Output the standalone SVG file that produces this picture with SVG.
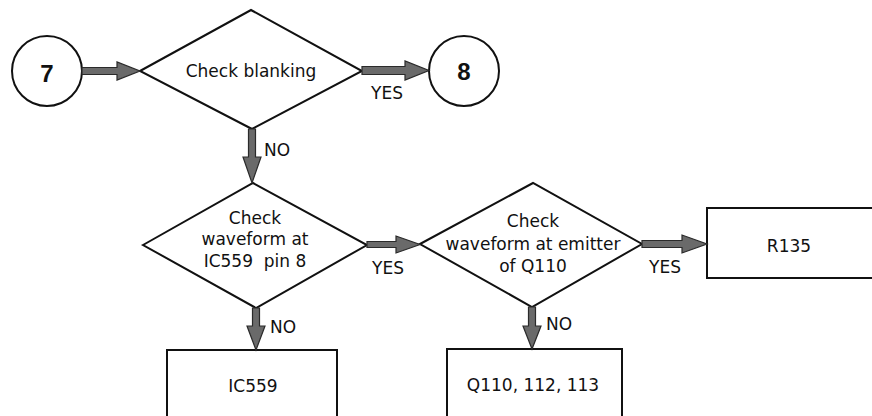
<svg xmlns="http://www.w3.org/2000/svg" width="872" height="416" viewBox="0 0 872 416">
<style>
.shape{fill:#fff;stroke:#111;stroke-width:2}
.arr{fill:#6a6a6a;stroke:#2a2a2a;stroke-width:1.2;stroke-linejoin:miter}
text{font-family:"DejaVu Sans","Liberation Sans",sans-serif;font-size:17px;fill:#111}
.c{text-anchor:middle}
.num{font-family:"Liberation Sans",Arial,sans-serif;font-size:24px;font-weight:bold}
</style>
<rect width="872" height="416" fill="#fff"/>
<g id="n7"><circle class="shape" cx="47" cy="71" r="35"/><text class="c num" x="47" y="82">7</text></g>
<g id="d1"><polygon class="shape" points="140,71 251,10 362,71 252,129"/><text class="c" x="251" y="77">Check blanking</text></g>
<g id="n8"><circle class="shape" cx="464" cy="71" r="35"/><text class="c num" x="464" y="80">8</text></g>
<g id="d2"><polygon class="shape" points="143,245 253,183 367,245 256,308"/><text class="c" x="255" y="224">Check</text><text class="c" x="255" y="245">waveform at</text><text class="c" x="255" y="267" xml:space="preserve">IC559  pin 8</text></g>
<g id="d3"><polygon class="shape" points="420,244 533,183 642,244 532,307"/><text class="c" x="533" y="227">Check</text><text class="c" x="533" y="250">waveform at emitter</text><text class="c" x="533" y="272">of Q110</text></g>
<g id="r135"><rect class="shape" x="707" y="208" width="180" height="70"/><text class="c" x="789" y="252">R135</text></g>
<g id="ic559"><rect class="shape" x="167" y="350" width="170" height="80"/><text class="c" x="253" y="392">IC559</text></g>
<g id="q110"><rect class="shape" x="447" y="349" width="175" height="80"/><text class="c" x="533" y="391">Q110, 112, 113</text></g>
<g id="connectors">
<polygon class="arr" points="82,67.5 117,67.5 117,62 140,71 117,80 117,74.5 82,74.5"/>
<polygon class="arr" points="362,66.5 405,66.5 405,61 429,70.5 405,80 405,74.5 362,74.5"/>
<polygon class="arr" points="248.5,129 255.5,129 255.5,157 261,157 252,183 243,157 248.5,157"/>
<polygon class="arr" points="367,241.5 396,241.5 396,236 420,244.5 396,253 396,247.5 367,247.5"/>
<polygon class="arr" points="252.5,308 259.5,308 259.5,326 265,326 256,350 247,326 252.5,326"/>
<polygon class="arr" points="642,240.5 682,240.5 682,235 707,244 682,253 682,247.5 642,247.5"/>
<polygon class="arr" points="528.5,307 535.5,307 535.5,326 541,326 532,349 523,326 528.5,326"/>
<text class="c" x="387" y="99">YES</text>
<text x="264" y="156">NO</text>
<text class="c" x="388" y="274">YES</text>
<text x="270" y="333">NO</text>
<text class="c" x="665" y="273">YES</text>
<text x="546" y="330">NO</text>
</g>
</svg>
